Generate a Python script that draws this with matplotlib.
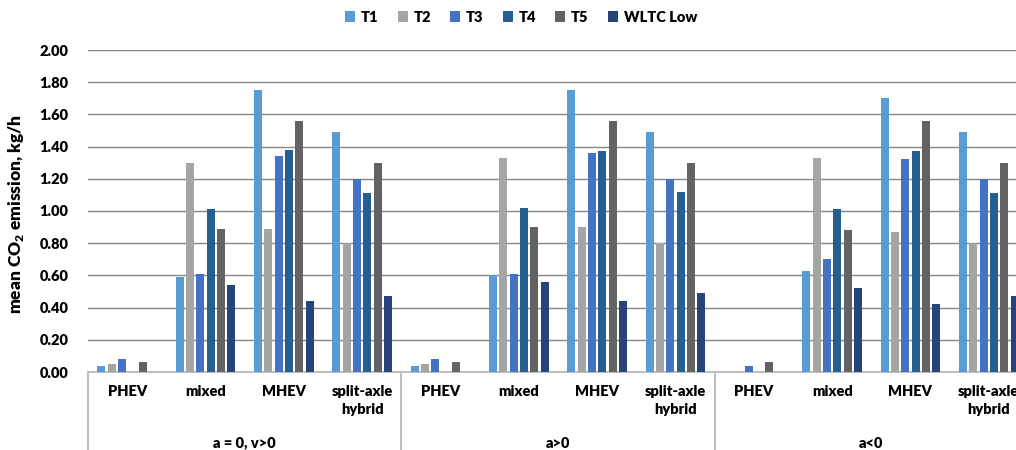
import numpy as np
import matplotlib
matplotlib.use('Agg')
import matplotlib.pyplot as plt
import matplotlib.transforms as mtransforms

params = {'font.family': ['Lato', 'DejaVu Sans'],
          'font.weight': 'heavy',
          'mathtext.fontset': 'custom',
          'mathtext.rm': 'Lato',
          'mathtext.bf': 'Lato:heavy',
          'xtick.labelsize': 10.5,
          'ytick.labelsize': 10.5}
plt.rcParams.update(params)

vehicles = ['PHEV', 'mixed', 'MHEV', 'split-axle\nhybrid']
conditions = ['a = 0, v>0', 'a>0', 'a<0']
series = ['T1', 'T2', 'T3', 'T4', 'T5', 'WLTC Low']
colors = ['#5B9BD5', '#A5A5A5', '#4472C4', '#255E91', '#636363', '#264478']

# values per vehicle type, three condition blocks of four
t1 = [0.04, 0.59, 1.75, 1.49,  0.04, 0.60, 1.75, 1.49,  0.00, 0.63, 1.70, 1.49]
t2 = [0.05, 1.30, 0.89, 0.80,  0.05, 1.33, 0.90, 0.80,  0.00, 1.33, 0.87, 0.80]
t3 = [0.08, 0.61, 1.34, 1.20,  0.08, 0.61, 1.36, 1.20,  0.04, 0.70, 1.32, 1.20]
t4 = [0.00, 1.01, 1.38, 1.11,  0.00, 1.02, 1.37, 1.12,  0.00, 1.01, 1.37, 1.11]
t5 = [0.06, 0.89, 1.56, 1.30,  0.06, 0.90, 1.56, 1.30,  0.06, 0.88, 1.56, 1.30]
wltc = [0.00, 0.54, 0.44, 0.47, 0.00, 0.56, 0.44, 0.49,  0.00, 0.52, 0.42, 0.47]
values = [t1, t2, t3, t4, t5, wltc]

W, H = 1016, 450
fig = plt.figure(figsize=(W / 100, H / 100), dpi=100)
# plot area runs past the right edge of the figure
ax = fig.add_axes([88 / W, 1 - 372 / H, 940 / W, 322 / H])

n_cat = len(vehicles) * len(conditions)
x = np.arange(n_cat)
pitch = 0.132
width = 0.103
for i, (name, vals, c) in enumerate(zip(series, values, colors)):
    offs = (i - 2.5) * pitch
    ax.bar(x + offs, vals, width=width, color=c, linewidth=0, label=name, zorder=3)

ax.set_xlim(-0.5, n_cat - 0.5)
ax.set_ylim(0, 2.0)
ax.set_yticks(np.arange(0, 2.01, 0.2))
ax.set_yticklabels([f'{v:.2f}' for v in np.arange(0, 2.01, 0.2)], fontweight='heavy')
ax.yaxis.grid(True, color='#868686', linewidth=1)
ax.set_axisbelow(True)
ax.tick_params(axis='y', length=0, pad=14)
ax.tick_params(axis='x', length=0, labelbottom=False)
for s in ['top', 'right', 'left']:
    ax.spines[s].set_visible(False)
ax.spines['bottom'].set_color('#BFBFBF')
ax.spines['bottom'].set_linewidth(1.5)

ax.set_ylabel('mean CO$_\\mathbf{2}$ emission, kg/h', fontsize=12.5, fontweight='heavy')
ax.yaxis.set_label_coords(-62 / 940, 0.49)

# two-level category axis
trans = mtransforms.blended_transform_factory(ax.transData, ax.transAxes)
for k in range(n_cat):
    ax.text(x[k], -13 / 322, vehicles[k % 4], transform=trans, ha='center', va='top',
            fontsize=10.5, fontweight='heavy', linespacing=1.45)
for g, cond in enumerate(conditions):
    ax.text(g * 4 + 1.5, -71 / 322, cond, transform=trans, ha='center', va='center',
            fontsize=10.5, fontweight='heavy')
for b in [-0.5, 3.5, 7.5]:
    ax.plot([b, b], [0, -80 / 322], transform=trans, color='#BFBFBF', linewidth=1.5,
            clip_on=False)

fig.legend(loc='center', bbox_to_anchor=(521 / W, 1 - 17 / H), ncol=6, frameon=False,
           handlelength=0.7, handleheight=0.7, handletextpad=0.4, columnspacing=1.3,
           prop={'weight': 'heavy', 'size': 10.5})

fig.savefig('out.png', dpi=100)
